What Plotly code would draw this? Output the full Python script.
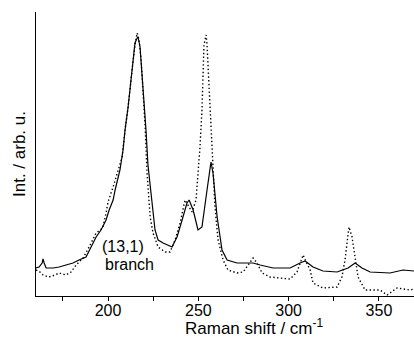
import plotly.graph_objects as go

# Raman shift (cm^-1) and intensity (arb. u.)
solid_x = [160.1, 161.8, 163.5, 164.0, 164.6, 165.7, 169.5, 172.9, 176.7, 180.6,
           183.9, 187.8, 190.6, 193.4, 196.1, 198.9, 200.6, 202.8, 203.9, 206.6,
           208.3, 209.4, 211.1, 213.3, 214.9, 216.1, 216.6, 217.7, 219.4, 221.0,
           222.1, 224.4, 226.0, 227.7, 230.5, 235.4, 238.2, 241.0, 243.7, 244.9,
           247.1, 249.8, 252.0, 254.8, 257.0, 258.1, 260.4, 263.1, 265.9, 271.4,
           280.3, 284.2, 291.4, 295.2, 300.8, 306.3, 309.1, 313.5, 319.0, 326.8,
           332.9, 336.8, 340.6, 345.1, 356.1, 363.3, 369.4]
solid_y = [28, 29, 33, 37, 33, 28, 28, 29, 31, 33,
           36, 39, 49, 59, 66, 76, 86, 96, 106, 126,
           146, 166, 189, 223, 253, 258, 259, 249, 209, 166,
           131, 89, 66, 56, 53, 49, 59, 76, 93, 96,
           86, 66, 69, 106, 134, 123, 79, 46, 36, 33,
           33, 31, 28, 28, 28, 33, 35, 29, 25, 24,
           28, 33, 28, 24, 23, 26, 25]

dot_x = [160.1, 162.3, 164.0, 167.3, 170.6, 172.9, 176.7, 179.5, 182.3, 186.2,
         189.5, 193.4, 195.6, 197.2, 198.9, 200.0, 202.8, 205.0, 207.8, 209.4,
         211.1, 213.3, 214.9, 216.1, 217.2, 218.3, 219.4, 220.5, 221.6, 223.3,
         224.9, 227.7, 231.6, 234.3, 237.1, 239.9, 242.6, 244.3, 246.5, 248.7,
         249.8, 250.9, 252.0, 252.6, 253.1, 254.3, 254.8, 255.4, 256.5, 257.6,
         258.1, 259.2, 260.9, 263.7, 266.4, 271.4, 274.8, 277.5, 280.3, 282.5,
         285.3, 289.7, 295.2, 300.8, 304.6, 308.0, 309.7, 311.9, 313.5, 319.0,
         326.8, 329.5, 331.2, 332.3, 333.4, 335.1, 336.8, 338.4, 342.3, 350.6,
         354.5, 360.0, 367.2, 369.4]
dot_y = [26, 24, 21, 19, 21, 23, 21, 24, 31, 38,
         49, 63, 66, 69, 83, 94, 109, 123, 139, 166,
         189, 226, 251, 263, 256, 236, 206, 171, 123, 79,
         63, 49, 44, 44, 56, 73, 96, 91, 84, 96,
         121, 149, 186, 229, 251, 261, 251, 229, 186, 149,
         129, 89, 56, 36, 26, 23, 24, 31, 38, 33,
         23, 19, 18, 17, 24, 41, 34, 26, 13, 8,
         9, 19, 36, 56, 69, 59, 39, 19, 6, 6,
         1, 8, 6, 7]

major_ticks = [200, 250, 300, 350]
tick_labels = ["200", "250", "300", "350"]

FONT = "Liberation Sans, Arial, sans-serif"

fig = go.Figure()
fig.add_trace(go.Scatter(x=dot_x, y=dot_y, mode="lines",
                         line=dict(color="black", width=1.4, dash="1.4px,2.4px"),
                         showlegend=False, hoverinfo="skip"))
fig.add_trace(go.Scatter(x=solid_x, y=solid_y, mode="lines",
                         line=dict(color="black", width=1.2),
                         showlegend=False, hoverinfo="skip"))

fig.add_annotation(x=208.0, y=50, xref="x", yref="y", text="(13,1)",
                   showarrow=False, xanchor="center", yanchor="middle",
                   font=dict(family=FONT, size=16, color="black"))
fig.add_annotation(x=212.0, y=32, xref="x", yref="y", text="branch",
                   showarrow=False, xanchor="center", yanchor="middle",
                   font=dict(family=FONT, size=16, color="black"))
fig.add_annotation(x=0.579, y=-0.108, xref="paper", yref="paper",
                   text="Raman shift / cm<sup>-1</sup>",
                   showarrow=False, xanchor="center", yanchor="middle",
                   font=dict(family=FONT, size=17, color="black"))

fig.update_layout(
    width=414, height=340,
    margin=dict(l=36, r=0, t=12, b=44),
    paper_bgcolor="white", plot_bgcolor="white",
    font=dict(family=FONT, size=16, color="black"),
    xaxis=dict(range=[160.1, 369.4], tickvals=major_ticks, ticktext=tick_labels,
               ticks="outside", ticklen=4, tickwidth=1, tickcolor="black",
               ticklabelstandoff=-4,
               showline=True, linecolor="black", linewidth=1.2,
               showgrid=False, zeroline=False,
               minor=dict(ticks="outside", ticklen=4, tickwidth=1, tickcolor="black",
                          tickvals=[175, 225, 275, 325], showgrid=False),
               tickfont=dict(family=FONT, size=16, color="black")),
    yaxis=dict(range=[0, 284], showticklabels=False, ticks="",
               showline=True, linecolor="black", linewidth=1.2,
               showgrid=False, zeroline=False,
               title=dict(text="Int. / arb. u.", standoff=4,
                          font=dict(family=FONT, size=17, color="black"))),
)

fig.write_html("out.html")
